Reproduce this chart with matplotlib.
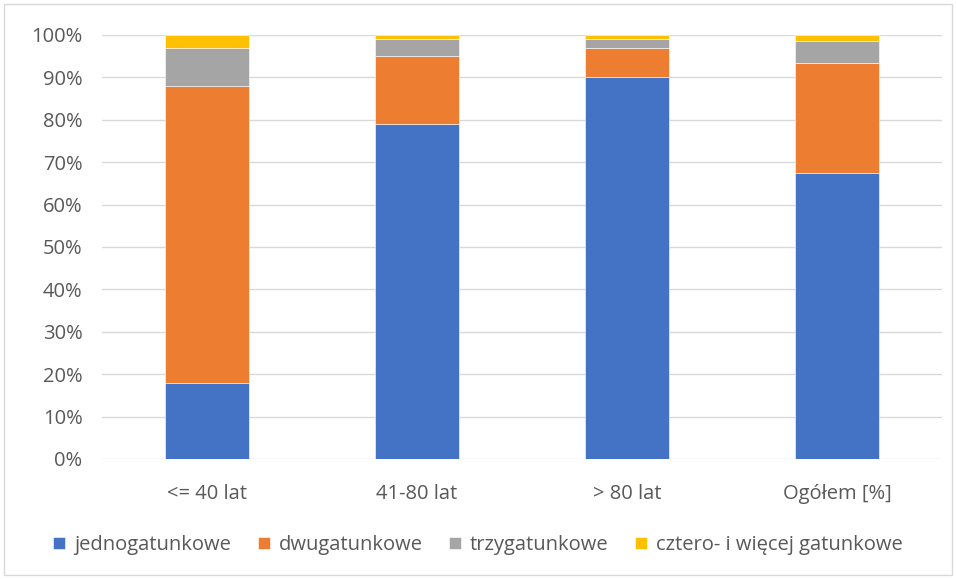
import numpy as np
import matplotlib.pyplot as plt
from matplotlib.ticker import PercentFormatter
from matplotlib.patches import Rectangle

categories = ['<= 40 lat', '41-80 lat', '> 80 lat', 'Ogółem [%]']
series_names = ['jednogatunkowe', 'dwugatunkowe', 'trzygatunkowe', 'cztero- i więcej gatunkowe']
jedno = [18, 79, 90, 67.5]
dwu = [70, 16, 7, 26]
trzy = [9, 4, 2, 5]
cztero = [3, 1, 1, 1.5]
colors = ['#4472C4', '#ED7D31', '#A5A5A5', '#FFC000']

plt.rcParams['font.family'] = ['Open Sans', 'DejaVu Sans']

fig = plt.figure(figsize=(9.56, 5.79), dpi=100)
ax = fig.add_axes([102 / 956, 1 - 459 / 579, 840 / 956, 424 / 579])

x = np.arange(len(categories))
bottom = np.zeros(len(categories))
for name, vals, c in zip(series_names, [jedno, dwu, trzy, cztero], colors):
    ax.bar(x, vals, width=0.4, bottom=bottom, color=c, label=name,
           edgecolor='white', linewidth=0.4, zorder=3)
    bottom += np.array(vals)

ax.set_xlim(-0.5, 3.5)
ax.set_ylim(0, 100)
ax.set_yticks(np.arange(0, 101, 10))
ax.yaxis.set_major_formatter(PercentFormatter(decimals=0))
ax.set_xticks(x)
ax.set_xticklabels(categories)
ax.grid(axis='y', color='#D9D9D9', linewidth=1, zorder=0)
for s in ax.spines.values():
    s.set_visible(False)
ax.tick_params(length=0, colors='#595959', labelsize=14.5)
ax.tick_params(axis='x', pad=18)
ax.tick_params(axis='y', pad=14)

fig.legend(loc='center', bbox_to_anchor=(0.5, 1 - 545 / 579), ncol=4, frameon=False,
           fontsize=14.5, labelcolor='#595959', handlelength=0.6, handleheight=0.6,
           handletextpad=0.45, columnspacing=1.3)

fig.add_artist(Rectangle((4 / 956, 4 / 579), 948 / 956, 571 / 579, transform=fig.transFigure,
                         fill=False, edgecolor='#D9D9D9', linewidth=1))

fig.savefig('out.png', dpi=100)
